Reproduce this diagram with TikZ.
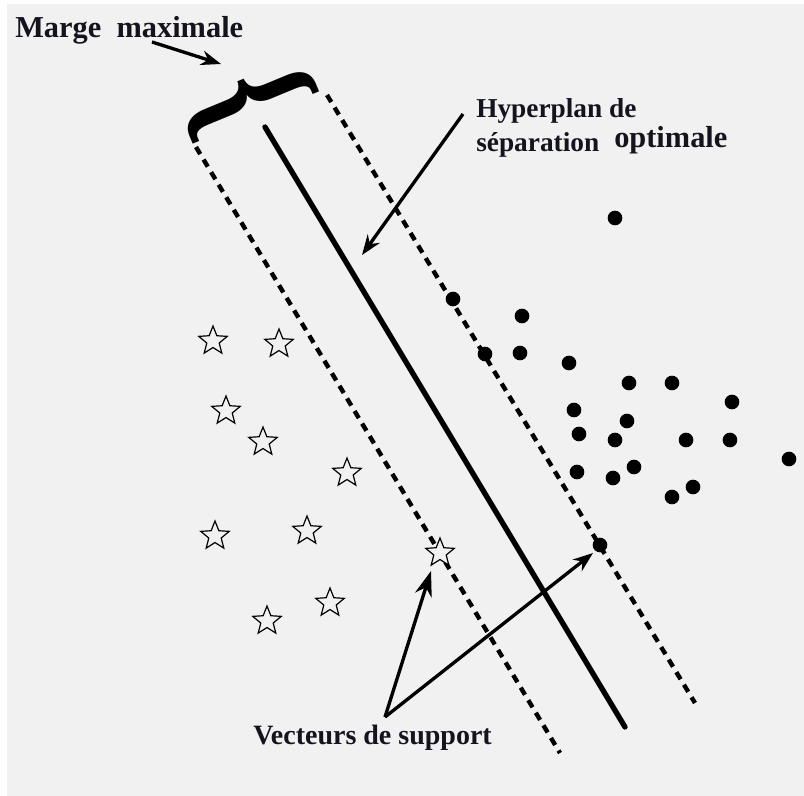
\documentclass[tikz,border=0pt]{standalone}
\usepackage{fontspec}
\setmainfont{Liberation Serif}
\usetikzlibrary{shapes.geometric,arrows.meta}
\definecolor{bgcol}{HTML}{F1F1F1}
\definecolor{txtcol}{HTML}{14141E}
\begin{document}
\begin{tikzpicture}[x=0.75pt,y=-0.75pt,
  starpt/.style={star, star points=5, star point ratio=2.3, draw, line width=0.9pt,
     minimum size=22.5pt, inner sep=0pt, fill=bgcol},
  dotpt/.style={circle, fill=black, minimum size=11pt, inner sep=0pt},
  sepline/.style={line width=4pt, line cap=round},
  marginline/.style={line width=3.3pt, dash pattern=on 6.2pt off 4.8pt},
  pointer/.style={line width=2.5pt, -{Stealth[length=15pt,width=11pt]}},
  lbl/.style={font=\bfseries, text=txtcol, anchor=base west, inner sep=0pt},
  bracenode/.style={inner sep=0pt, anchor=center}
]
\useasboundingbox (0,0) rectangle (804,796);
\fill[white] (0,0) rectangle (804,796);
\fill[bgcol] (7,4) rectangle (804,796);

% lines
\coordinate (s1) at (265,127);
\coordinate (s2) at (625,727);
\coordinate (l1) at (196,147);
\coordinate (l2) at (560,753);
\coordinate (r1) at (327,95);
\coordinate (r2) at (695,703);
\draw[marginline] (l1) -- (l2);
\draw[marginline] (r1) -- (r2);
\draw[sepline] (s1) -- (s2);

% brace (glyph, rotated)
\node[bracenode] (brace) at (249,100)
  {\rotatebox{-67.5}{\scalebox{0.76}[1]{\fontsize{124}{124}\selectfont\bfseries\{}}};

% stars
\node[starpt] (st1) at (213,341) {};
\node[starpt] (st2) at (279,344) {};
\node[starpt] (st3) at (226,411) {};
\node[starpt] (st4) at (263,442) {};
\node[starpt] (st5) at (347,473) {};
\node[starpt] (st6) at (215,536) {};
\node[starpt] (st7) at (307,531) {};
\node[starpt] (st8) at (330,603) {};
\node[starpt] (st9) at (267,621) {};
\node[starpt] (sv1) at (440,553) {};

% dots
\foreach \n/\x/\y in {d1/615/218, d2/453/299, d3/522/316, d4/485/354, d5/520/353,
  d6/569/363, d7/629/383, d8/672/383, d9/732/402, d10/574/410, d11/627/421,
  d12/579/434, d13/615/440, d14/686/440, d15/730/440, d16/789/459, d17/577/472,
  d18/634/467, d19/613/478, d20/693/487, d21/672/497}
  \node[dotpt] (\n) at (\x,\y) {};
\node[dotpt] (sv2) at (600,545) {};

% labels
\node[lbl, font=\bfseries\fontsize{22.8}{26}\selectfont] (marge) at (15,37) {Marge\ \ maximale};
\node[lbl, font=\bfseries\fontsize{20.5}{24}\selectfont] (hyp1) at (476,117) {Hyperplan de};
\node[lbl, font=\bfseries\fontsize{20.5}{24}\selectfont] (hyp2) at (476,151) {séparation};
\node[lbl, font=\bfseries\fontsize{22.8}{26}\selectfont] (hyp3) at (614,147) {optimale};
\node[lbl, font=\bfseries\fontsize{21}{24}\selectfont] (vect) at (253,744) {Vecteurs de support};

% pointers
\coordinate (ma) at (152,42);
\coordinate (mb) at (221,64);
\draw[pointer] (ma) -- (mb);
\coordinate (ha) at (463,114);
\coordinate (hb) at (362,255);
\draw[pointer] (ha) -- (hb);
\coordinate (va) at (385,717);
\coordinate (vb1) at (431,571);
\coordinate (vb2) at (593,553);
\draw[line width=2.5pt, -{Stealth[length=19pt,width=13pt]}] (va) -- (vb1);
\draw[pointer] (va) -- (vb2);
\end{tikzpicture}
\end{document}
